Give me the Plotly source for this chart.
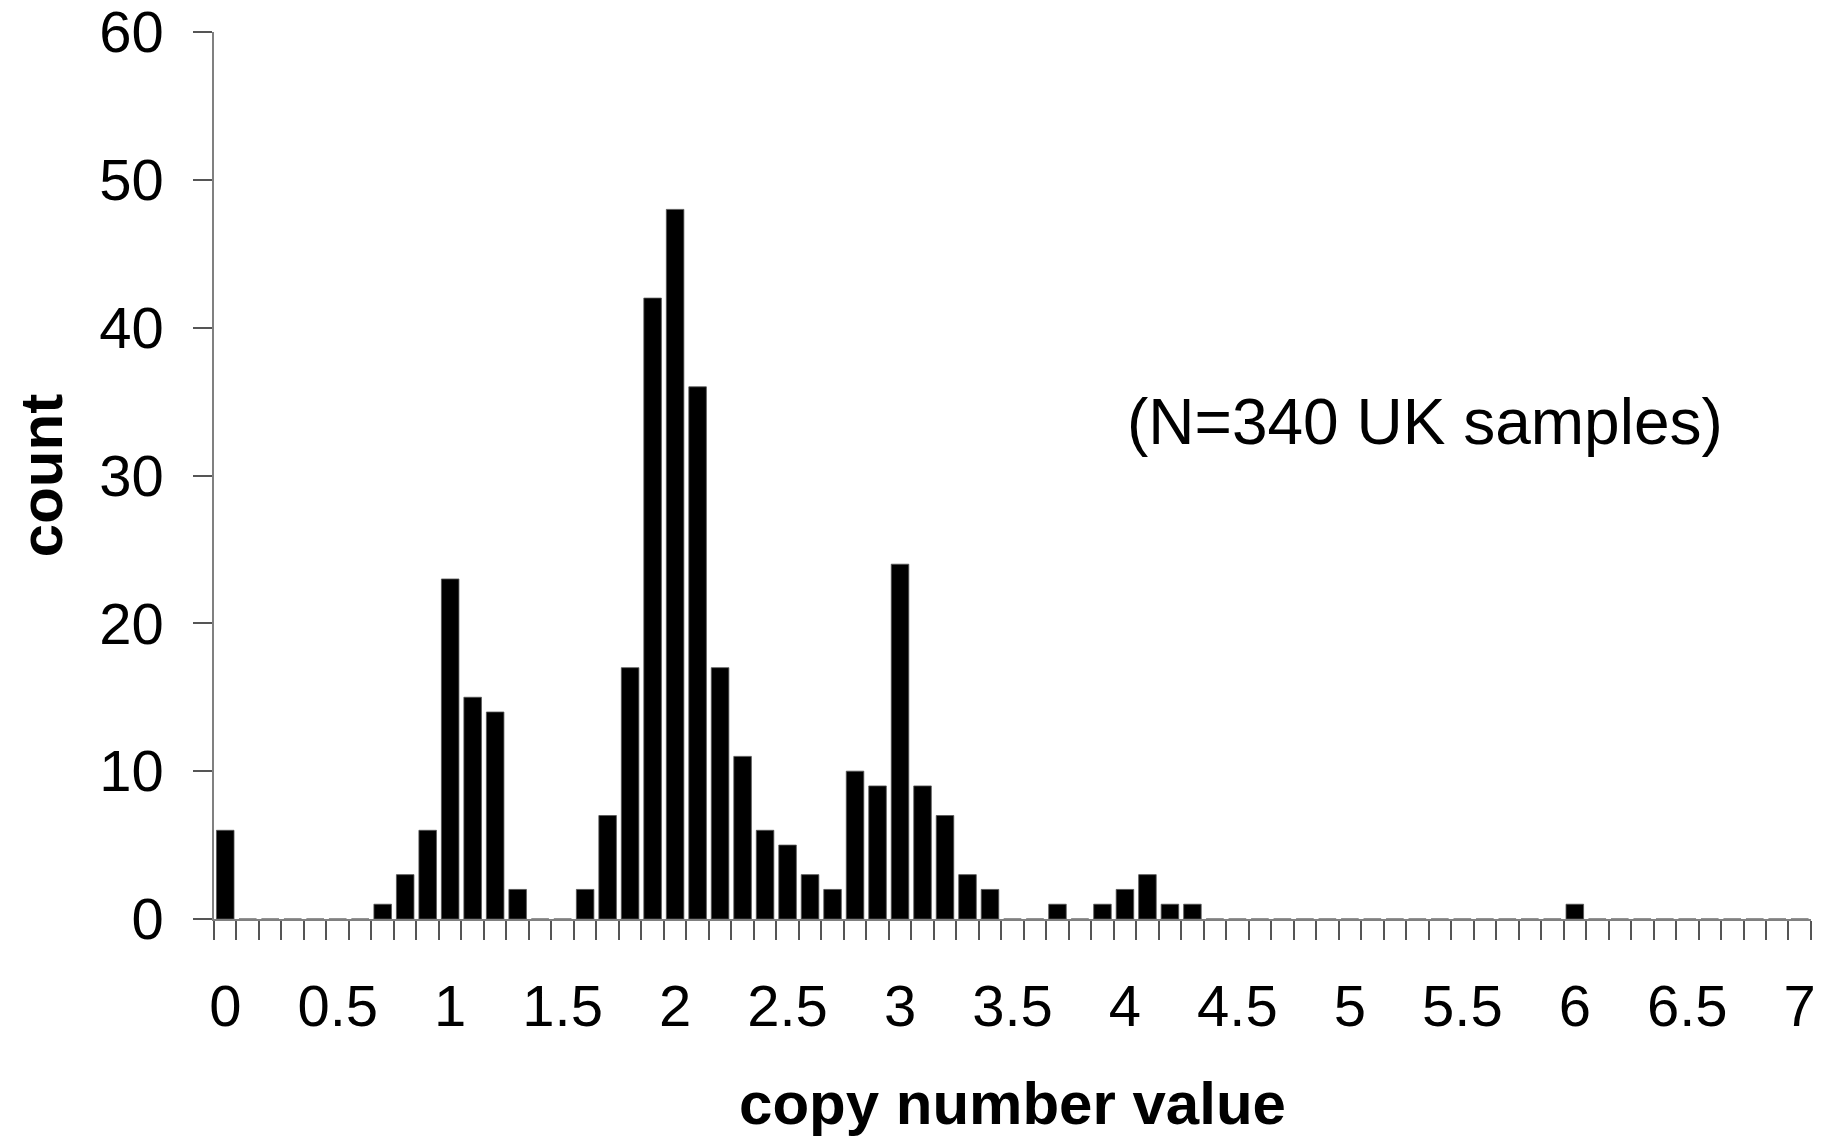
import plotly.graph_objects as go

# copy number bins (width 0.1)
bins = [0.0, 0.1, 0.2, 0.3, 0.4, 0.5, 0.6, 0.7, 0.8, 0.9,
        1.0, 1.1, 1.2, 1.3, 1.4, 1.5, 1.6, 1.7, 1.8, 1.9,
        2.0, 2.1, 2.2, 2.3, 2.4, 2.5, 2.6, 2.7, 2.8, 2.9,
        3.0, 3.1, 3.2, 3.3, 3.4, 3.5, 3.6, 3.7, 3.8, 3.9,
        4.0, 4.1, 4.2, 4.3, 4.4, 4.5, 4.6, 4.7, 4.8, 4.9,
        5.0, 5.1, 5.2, 5.3, 5.4, 5.5, 5.6, 5.7, 5.8, 5.9,
        6.0, 6.1, 6.2, 6.3, 6.4, 6.5, 6.6, 6.7, 6.8, 6.9,
        7.0]
counts = [6, 0, 0, 0, 0, 0, 0, 1, 3, 6,
          23, 15, 14, 2, 0, 0, 2, 7, 17, 42,
          48, 36, 17, 11, 6, 5, 3, 2, 10, 9,
          24, 9, 7, 3, 2, 0, 0, 1, 0, 1,
          2, 3, 1, 1, 0, 0, 0, 0, 0, 0,
          0, 0, 0, 0, 0, 0, 0, 0, 0, 0,
          1, 0, 0, 0, 0, 0, 0, 0, 0, 0,
          0]
x_tick_vals = [0, 0.5, 1, 1.5, 2, 2.5, 3, 3.5, 4, 4.5, 5, 5.5, 6, 6.5, 7]
x_tick_text = ["0", "0.5", "1", "1.5", "2", "2.5", "3", "3.5", "4", "4.5",
               "5", "5.5", "6", "6.5", "7"]
y_tick_vals = [0, 10, 20, 30, 40, 50, 60]

FONT = "Liberation Sans, Arial, sans-serif"
AXIS_COLOR = "#808080"

fig = go.Figure()
fig.add_trace(go.Bar(
    x=bins, y=counts,
    marker=dict(color="black", line=dict(color="#555555", width=0.8)),
    width=0.078,
    showlegend=False,
))

fig.update_layout(
    width=1835, height=1137,
    margin=dict(l=206, r=32, t=24, b=226),
    paper_bgcolor="white", plot_bgcolor="white",
    font=dict(family=FONT, color="black", size=58),
    xaxis=dict(
        range=[-0.05, 7.0501], automargin=False,
        showline=True, linecolor=AXIS_COLOR, linewidth=1.5,
        showgrid=False, zeroline=False,
        tickmode="array", tickvals=x_tick_vals, ticktext=x_tick_text,
        ticks="", ticklabelstandoff=36, ticklabeloverflow="allow",
        tickfont=dict(family=FONT, size=58, color="black"),
        minor=dict(ticks="outside", ticklen=19, tickwidth=1.5, tickcolor="#555555",
                   tick0=-0.05, dtick=0.1, showgrid=False),
        title=dict(text="<b>copy number value</b>", standoff=45,
                   font=dict(family=FONT, size=60, color="black")),
    ),
    yaxis=dict(
        range=[0, 60], automargin=False,
        showline=True, linecolor=AXIS_COLOR, linewidth=1.5,
        showgrid=False, zeroline=False,
        tickmode="array", tickvals=y_tick_vals,
        ticks="outside", ticklen=19, tickwidth=1.5, tickcolor="#555555",
        ticklabelstandoff=18, ticklabeloverflow="allow",
        tickfont=dict(family=FONT, size=58, color="black"),
        title=dict(text="<b>count</b>", standoff=38,
                   font=dict(family=FONT, size=60, color="black")),
    ),
    annotations=[dict(
        text="(N=340 UK samples)", x=0.758, xref="paper", y=33.6, yref="y",
        xanchor="center", yanchor="middle", showarrow=False,
        font=dict(family=FONT, size=64, color="black"),
    )],
)

fig.write_html("out.html")
